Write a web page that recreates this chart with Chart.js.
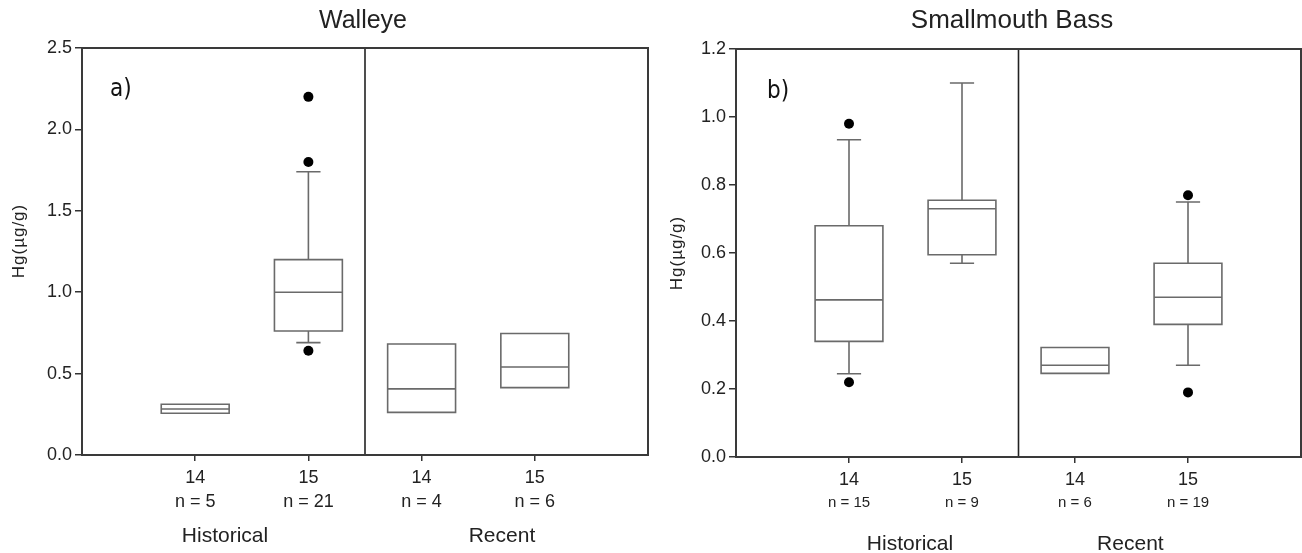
<!DOCTYPE html>
<html>
<head>
<meta charset="utf-8">
<script src="https://cdn.jsdelivr.net/npm/chart.js@4.4.1/dist/chart.umd.min.js"></script>
<style>
  html, body { margin: 0; padding: 0; background: #fff; }
  #wrap { position: relative; width: 1302px; height: 553px; overflow: hidden; }
  .panel { position: absolute; top: 0; width: 651px; height: 553px; }
  #p1 { left: 0; }
  #p2 { left: 651px; }
</style>
</head>
<body>
<div id="wrap">
  <div class="panel" id="p1"><canvas id="c1"></canvas></div>
  <div class="panel" id="p2"><canvas id="c2"></canvas></div>
</div>
<script>
// Year classes along the x axis, grouped into two sampling periods
const categories = ['14', '15', '14', '15'];
const periods = ['Historical', 'Recent'];

// Walleye mercury (µg/g): quartiles, whisker ends and outliers per group
const walleyeN = [5, 21, 4, 6];
const walleyeQ1 = [0.256, 0.762, 0.262, 0.414];
const walleyeMedian = [0.283, 1.00, 0.406, 0.541];
const walleyeQ3 = [0.312, 1.20, 0.682, 0.746];
const walleyeLow = [null, 0.69, null, null];
const walleyeHigh = [null, 1.74, null, null];
const walleyeOutliers = [[], [2.20, 1.80, 0.64], [], []];

// Smallmouth bass mercury (µg/g)
const bassN = [15, 9, 6, 19];
const bassQ1 = [0.340, 0.595, 0.246, 0.390];
const bassMedian = [0.462, 0.730, 0.270, 0.470];
const bassQ3 = [0.680, 0.755, 0.322, 0.570];
const bassLow = [0.245, 0.570, null, 0.270];
const bassHigh = [0.933, 1.100, null, 0.750];
const bassOutliers = [[0.98, 0.22], [], [], [0.77, 0.19]];

// Y axis tick ranges
const walleyeYTicks = { min: 0, max: 2.5, step: 0.5 };
const bassYTicks = { min: 0, max: 1.2, step: 0.2 };

const FONT = "'Liberation Sans', Arial, sans-serif";
const TEXT = '#222';
const BOX_HALF = 0.3;
const CAP_HALF = 0.1;

// Outline of every box, median, whisker and cap as one broken polyline
function boxSegments(q1, med, q3, lo, hi) {
  const pts = [];
  const gap = x => pts.push({ x, y: null });
  q1.forEach((_, i) => {
    const x = i + 1, L = x - BOX_HALF, R = x + BOX_HALF;
    pts.push({ x: L, y: q1[i] }, { x: R, y: q1[i] }, { x: R, y: q3[i] }, { x: L, y: q3[i] }, { x: L, y: q1[i] });
    gap(x);
    pts.push({ x: L, y: med[i] }, { x: R, y: med[i] });
    gap(x);
    if (hi[i] !== null) {
      pts.push({ x, y: q3[i] }, { x, y: hi[i] });
      gap(x);
      pts.push({ x: x - CAP_HALF, y: hi[i] }, { x: x + CAP_HALF, y: hi[i] });
      gap(x);
    }
    if (lo[i] !== null) {
      pts.push({ x, y: q1[i] }, { x, y: lo[i] });
      gap(x);
      pts.push({ x: x - CAP_HALF, y: lo[i] }, { x: x + CAP_HALF, y: lo[i] });
      gap(x);
    }
  });
  return pts;
}

function outlierPoints(list) {
  const pts = [];
  list.forEach((vals, i) => vals.forEach(v => pts.push({ x: i + 1, y: v })));
  return pts;
}

// Frame around the plot area
const framePlugin = {
  id: 'frame',
  afterDraw(chart) {
    const { ctx, chartArea: a } = chart;
    ctx.save();
    ctx.strokeStyle = '#3a3a3a';
    ctx.lineWidth = 2;
    ctx.strokeRect(a.left, a.top, a.right - a.left, a.bottom - a.top);
    ctx.restore();
  }
};

// Panel title, panel letter, y axis title, sample sizes and period names
const labelPlugin = {
  id: 'panelLabels',
  afterDraw(chart, args, o) {
    const { ctx, scales: { x } } = chart;
    ctx.save();
    ctx.fillStyle = TEXT;
    ctx.textAlign = 'center';
    ctx.textBaseline = 'alphabetic';
    ctx.font = `${o.titleSize}px ${FONT}`;
    ctx.fillText(o.title, o.titleX, o.titleY);

    ctx.textAlign = 'left';
    ctx.fillStyle = '#111';
    ctx.font = `24px 'Liberation Sans Narrow', 'DejaVu Sans Condensed', ${FONT}`;
    ctx.fillText(o.letter, o.letterX, o.letterY);

    ctx.fillStyle = TEXT;
    ctx.save();
    ctx.translate(o.yTitleX, o.yTitleY);
    ctx.rotate(-Math.PI / 2);
    ctx.textAlign = 'center';
    ctx.textBaseline = 'middle';
    ctx.font = `17px ${FONT}`;
    ctx.letterSpacing = '1px';
    ctx.fillText('Hg(µg/g)', 0, 0);
    ctx.restore();

    ctx.textAlign = 'center';
    ctx.textBaseline = 'middle';
    ctx.font = `${o.nSize}px ${FONT}`;
    o.n.forEach((n, i) => ctx.fillText('n = ' + n, x.getPixelForValue(i + 1), o.nY));

    ctx.textBaseline = 'alphabetic';
    ctx.font = `21px ${FONT}`;
    periods.forEach((p, i) => ctx.fillText(p, x.getPixelForValue(o.periodAt[i]), o.periodY));
    ctx.restore();
  }
};

function makeChart(id, cfg) {
  return new Chart(document.getElementById(id), {
    type: 'scatter',
    data: {
      datasets: [
        {
          data: boxSegments(cfg.q1, cfg.median, cfg.q3, cfg.low, cfg.high),
          showLine: true,
          spanGaps: false,
          pointRadius: 0,
          borderColor: '#6a6a6a',
          borderWidth: 1.6,
          borderJoinStyle: 'miter',
          borderCapStyle: 'square',
          tension: 0
        },
        {
          data: [{ x: 2.5, y: cfg.yTicks.min }, { x: 2.5, y: cfg.yTicks.max }],
          showLine: true,
          pointRadius: 0,
          borderColor: '#222',
          borderWidth: 1.6
        },
        {
          data: outlierPoints(cfg.outliers),
          showLine: false,
          pointRadius: 5,
          pointBorderWidth: 0,
          backgroundColor: '#000',
          borderColor: '#000'
        }
      ]
    },
    options: {
      responsive: true,
      maintainAspectRatio: false,
      animation: false,
      events: [],
      layout: { padding: cfg.padding, autoPadding: false },
      plugins: {
        legend: { display: false },
        tooltip: { enabled: false },
        panelLabels: cfg.labels
      },
      scales: {
        x: {
          type: 'linear',
          min: 0,
          max: 5,
          afterBuildTicks: s => { s.ticks = categories.map((_, i) => ({ value: i + 1 })); },
          afterFit: s => { s.height = cfg.xHeight; },
          border: { display: false },
          grid: { drawOnChartArea: false, drawTicks: true, tickLength: 6, color: '#333', lineWidth: 1.5 },
          ticks: {
            callback: v => categories[v - 1],
            color: TEXT,
            font: { family: FONT, size: 18 },
            padding: 6,
            maxRotation: 0
          }
        },
        y: {
          min: cfg.yTicks.min,
          max: cfg.yTicks.max,
          afterFit: s => { s.width = cfg.yWidth; },
          border: { display: false },
          grid: { drawOnChartArea: false, drawTicks: true, tickLength: 7, color: '#333', lineWidth: 1.5 },
          ticks: {
            stepSize: cfg.yTicks.step,
            callback: v => v.toFixed(1),
            color: TEXT,
            font: { family: FONT, size: 18 },
            padding: 3
          }
        }
      }
    },
    plugins: [framePlugin, labelPlugin]
  });
}

makeChart('c1', {
  q1: walleyeQ1, median: walleyeMedian, q3: walleyeQ3, low: walleyeLow, high: walleyeHigh,
  outliers: walleyeOutliers, yTicks: walleyeYTicks,
  padding: { top: 48, right: 3, left: 0, bottom: 0 },
  yWidth: 82, xHeight: 98,
  labels: {
    title: 'Walleye', titleSize: 25, titleX: 363, titleY: 28,
    letter: 'a)', letterX: 110, letterY: 96,
    yTitleX: 19, yTitleY: 241,
    n: walleyeN, nSize: 18, nY: 502,
    periodAt: [1.263, 3.71], periodY: 542
  }
});

makeChart('c2', {
  q1: bassQ1, median: bassMedian, q3: bassQ3, low: bassLow, high: bassHigh,
  outliers: bassOutliers, yTicks: bassYTicks,
  padding: { top: 49, right: 1, left: 0, bottom: 0 },
  yWidth: 85, xHeight: 96,
  labels: {
    title: 'Smallmouth Bass', titleSize: 26, titleX: 361, titleY: 28,
    letter: 'b)', letterX: 116, letterY: 98,
    yTitleX: 26, yTitleY: 253,
    n: bassN, nSize: 15, nY: 503,
    periodAt: [1.54, 3.49], periodY: 550
  }
});
</script>
</body>
</html>
